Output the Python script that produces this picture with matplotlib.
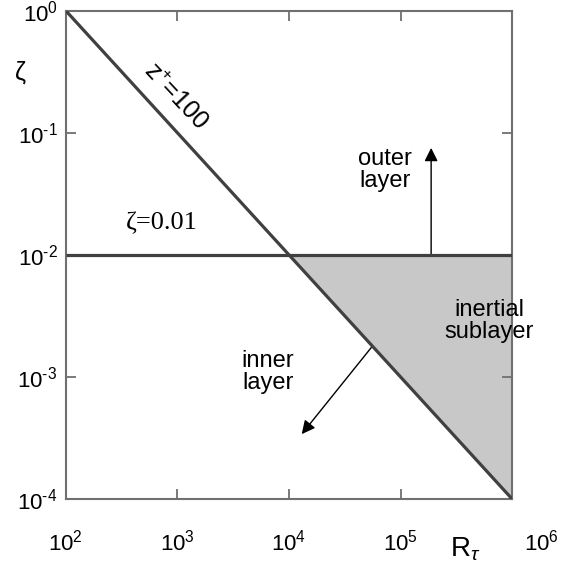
import matplotlib
matplotlib.use('Agg')
import matplotlib.pyplot as plt
import matplotlib.transforms as mtransforms

plt.rcParams['font.family'] = ['Liberation Sans', 'DejaVu Sans']
plt.rcParams['mathtext.fontset'] = 'custom'
plt.rcParams['mathtext.rm'] = 'Liberation Sans'
plt.rcParams['mathtext.it'] = 'Liberation Sans:italic'

# data
z_plus_x = [1e2, 1e6]          # z+ = 100 line
z_plus_y = [1e0, 1e-4]
zeta_x = [1e2, 1e6]            # zeta = 0.01 line
zeta_y = [1e-2, 1e-2]
inertial_x = [1e4, 1e6, 1e6]   # inertial sublayer triangle
inertial_y = [1e-2, 1e-4, 1e-2]
x_ticks = [1e2, 1e3, 1e4, 1e5, 1e6]
x_labels = ['$10^2$', '$10^3$', '$10^4$', '$10^5$', '$10^6$']
y_ticks = [1e-4, 1e-3, 1e-2, 1e-1, 1e0]
y_labels = [r'$10^{\text{-}4}$', r'$10^{\text{-}3}$', r'$10^{\text{-}2}$',
            r'$10^{\text{-}1}$', '$10^0$']

line_col = '#404040'
spine_col = '#707070'

fig = plt.figure(figsize=(5.78, 5.68), dpi=100)
ax = fig.add_axes([0.114, 0.1215, 0.772, 0.8595])
ax.set_xscale('log')
ax.set_yscale('log')
ax.set_xlim(1e2, 1e6)
ax.set_ylim(1e-4, 1e0)

ax.fill(inertial_x, inertial_y, color='#c8c8c8', lw=0, zorder=1)
ax.plot(zeta_x, zeta_y, color=line_col, lw=2.3, zorder=3, solid_capstyle='butt')
ax.plot(z_plus_x, z_plus_y, color=line_col, lw=2.3, zorder=3, solid_capstyle='butt')

for s in ax.spines.values():
    s.set_color(spine_col)
    s.set_linewidth(1.5)

ax.set_xticks(x_ticks)
ax.set_xticklabels(x_labels)
ax.set_yticks(y_ticks)
ax.set_yticklabels(y_labels)
ax.minorticks_off()
ax.tick_params(which='major', direction='in', length=7, width=1.3, color=spine_col,
               top=True, right=True, labelsize=16)
ax.tick_params(axis='x', pad=22)
ax.tick_params(axis='y', pad=6)

# shift the 10^6 label to the right to make room for R_tau
lbl = ax.get_xticklabels()[-1]
lbl.set_transform(lbl.get_transform() + mtransforms.ScaledTranslation(0.29, 0, fig.dpi_scale_trans))

fig.text(0.036, 0.873, 'ζ', fontsize=18, ha='center', va='center')
fig.text(0.805, 0.033, r'R$_\tau$', fontsize=20, ha='center', va='center')

ax.text(950, 0.2, 'z$^{+}$=100', fontsize=18, rotation=-47, ha='center', va='center')
ax.text(727, 0.0183, 'ζ=0.01', fontsize=19, family=['Liberation Serif'], ha='center', va='center')
ax.text(6.2e5, 2.88e-3, 'inertial\nsublayer', fontsize=17, ha='center', va='center', linespacing=1.0)
ax.text(7.26e4, 0.0498, 'outer\nlayer', fontsize=17, ha='center', va='center', linespacing=1.0)
ax.text(6.5e3, 1.1e-3, 'inner\nlayer', fontsize=17, ha='center', va='center', linespacing=1.0)

ax.annotate('', xy=(1.88e5, 0.0753), xytext=(1.88e5, 0.01),
            arrowprops=dict(arrowstyle='-|>', color='black', lw=1.0, mutation_scale=20,
                            shrinkA=0, shrinkB=0), zorder=2)
ax.annotate('', xy=(1.3e4, 3.4e-4), xytext=(5.6e4, 1.79e-3),
            arrowprops=dict(arrowstyle='-|>', color='black', lw=1.0, mutation_scale=20,
                            shrinkA=0, shrinkB=0), zorder=2)

fig.savefig('out.png', dpi=100)
